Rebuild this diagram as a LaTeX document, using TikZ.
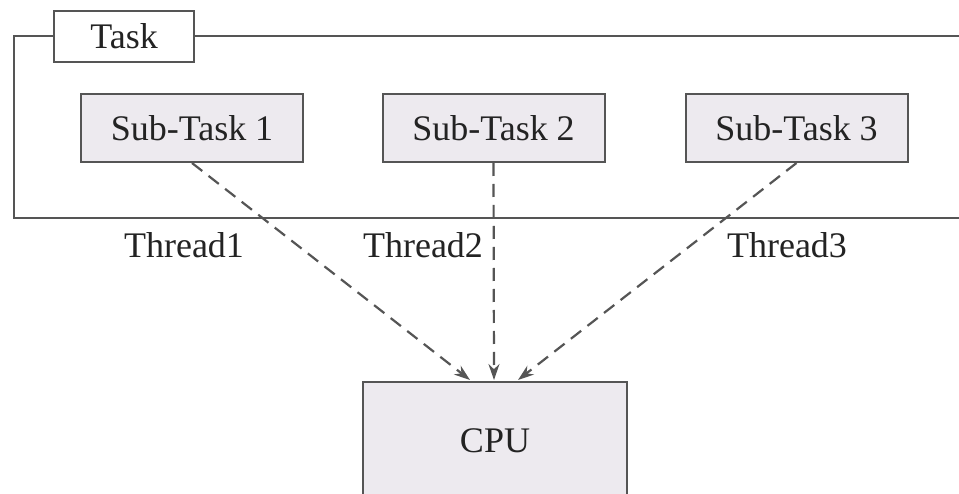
\documentclass[tikz,border=0pt]{standalone}
\usepackage{fontspec}
\setmainfont{Liberation Serif}
\usetikzlibrary{arrows.meta}
\definecolor{boxfill}{RGB}{237,234,239}
\definecolor{edge}{RGB}{85,85,85}
\definecolor{ink}{RGB}{35,35,35}
\tikzset{
  subbox/.style={draw=edge, line width=2pt, fill=boxfill, minimum width=222pt, minimum height=68pt, inner sep=0pt, text=ink, font=\fontsize{36}{43}\selectfont},
  labelbox/.style={draw=edge, line width=2pt, fill=white, minimum width=140pt, minimum height=51pt, inner sep=0pt, text=ink, font=\fontsize{36}{43}\selectfont},
  threadlabel/.style={inner sep=0pt, text=ink, font=\fontsize{36}{43}\selectfont},
  frameline/.style={draw=edge, line width=2pt},
  flow/.style={draw=edge, line width=2.2pt, dash pattern=on 13pt off 8pt, -{Stealth[length=16pt,width=11pt]}}
}
\begin{document}
\begin{tikzpicture}[x=1pt,y=-1pt]
\useasboundingbox (0,0) rectangle (959,494);
\clip (0,0) rectangle (959,494);
\fill[white] (0,0) rectangle (959,494);
% outer frame
\coordinate (fbl) at (14,218);
\coordinate (fbr) at (975,218);
\coordinate (ftr) at (975,36.5);
\node[labelbox] (task) at (124,36.5) {Task};
\draw[frameline] (task.west) -| (fbl) -- (fbr);
\draw[frameline] (task.east) -- (ftr);
% sub tasks
\node[subbox] (sub1) at (192,128) {Sub-Task 1};
\node[subbox] (sub2) at (493.5,128) {Sub-Task 2};
\node[subbox] (sub3) at (796.5,128) {Sub-Task 3};
% cpu
\node[subbox, minimum width=264pt, minimum height=118pt] (cpu) at (495,441) {CPU};
% thread labels
\node[threadlabel] (t1) at (184,245) {Thread1};
\node[threadlabel] (t2) at (423,245) {Thread2};
\node[threadlabel] (t3) at (787,245) {Thread3};
% connectors
\draw[flow] (sub1.south) -- ([xshift=-25pt,yshift=1pt]cpu.north);
\draw[flow] (sub2.south) -- ([xshift=-1pt,yshift=1pt]cpu.north);
\draw[flow] (sub3.south) -- ([xshift=23pt,yshift=1pt]cpu.north);
\end{tikzpicture}
\end{document}
